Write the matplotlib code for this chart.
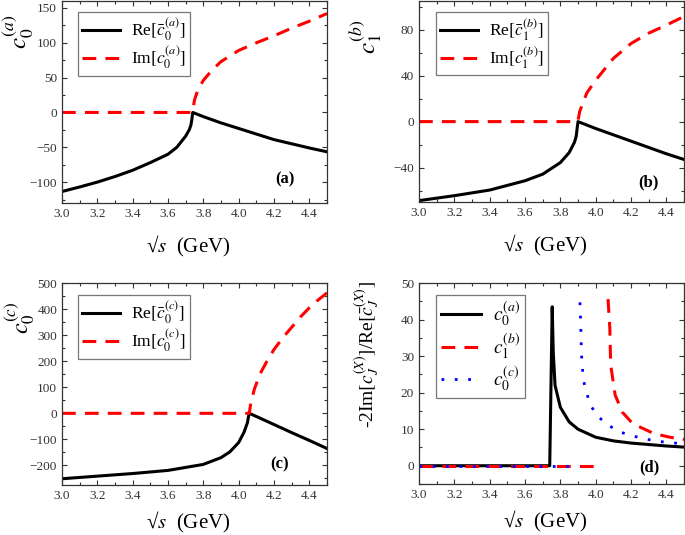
import matplotlib
matplotlib.use("Agg")
import numpy as np
import matplotlib.pyplot as plt
from matplotlib.ticker import MultipleLocator

plt.rcParams['font.family'] = ['Liberation Serif', 'DejaVu Serif']
plt.rcParams['mathtext.fontset'] = 'stix'

# ---- panel (a) ----
a_re_x = [3.0, 3.1, 3.2, 3.3, 3.4, 3.5, 3.6, 3.65, 3.7, 3.72, 3.73, 3.735, 3.74,
          3.8, 3.9, 4.0, 4.1, 4.2, 4.3, 4.4, 4.5]
a_re_y = [-113.5, -107, -100, -92, -83, -72, -60, -50, -34, -25, -18, -10, 0,
          -6, -15, -23, -31, -39, -45, -51, -56.5]
a_im_x = [3.0, 3.735, 3.74, 3.75, 3.77, 3.8, 3.85, 3.9, 4.0, 4.1, 4.2, 4.3, 4.4, 4.5]
a_im_y = [0, 0, 2, 18, 33, 46, 61, 73, 89, 100, 110, 121, 131, 142]

# ---- panel (b) ----
b_re_x = [3.0, 3.2, 3.4, 3.6, 3.7, 3.8, 3.85, 3.88, 3.89, 3.895, 3.9,
          4.0, 4.1, 4.2, 4.3, 4.4, 4.5]
b_re_y = [-68.8, -64.5, -59.6, -51.5, -45.8, -35.7, -27, -18, -12.7, -6, 0,
          -6, -11.5, -17, -22.5, -28, -33]
b_im_x = [3.0, 3.895, 3.9, 3.91, 3.95, 4.0, 4.1, 4.2, 4.3, 4.4, 4.5]
b_im_y = [0, 0, 1, 9, 25, 36, 55, 68, 77, 84, 91.5]

# ---- panel (c) ----
c_re_x = [3.0, 3.2, 3.4, 3.6, 3.8, 3.9, 3.95, 4.0, 4.03, 4.05, 4.055, 4.06,
          4.1, 4.2, 4.3, 4.4, 4.5]
c_re_y = [-251, -241, -231, -219, -196, -170, -148, -112, -73, -35, -15, 0,
          -12, -43, -74, -104, -135]
c_im_x = [3.0, 4.055, 4.06, 4.07, 4.09, 4.12, 4.16, 4.2, 4.25, 4.3, 4.35, 4.4, 4.45, 4.5]
c_im_y = [0, 0, 0, 45, 95, 150, 200, 245, 290, 330, 370, 405, 435, 462]

# ---- panel (d) ----
d_a_x = [3.0, 3.74, 3.754, 3.76, 3.77, 3.8, 3.85, 3.9, 4.0, 4.1, 4.2, 4.3, 4.4, 4.5]
d_a_y = [0, 0, 43.5, 31, 22, 16, 12, 10, 7.8, 6.8, 6.2, 5.8, 5.4, 5.1]
d_b_zero_x = [3.0, 4.034]
d_b_zero_y = [0, 0]
d_b_x = [4.07, 4.08, 4.085, 4.11, 4.15, 4.21, 4.33, 4.42, 4.5]
d_b_y = [45.6, 37.8, 27.6, 19.4, 14.7, 11.5, 8.8, 7.8, 7.2]
d_c_zero_x = [3.0, 3.875]
d_c_zero_y = [0, 0]
d_c_x = [3.911, 3.914, 3.92, 3.93, 3.95, 3.97, 4.01, 4.07, 4.14, 4.2, 4.27, 4.35, 4.42, 4.5]
d_c_y = [44.7, 41, 30.4, 23.5, 19.8, 16.6, 13.6, 11.1, 9.2, 8.3, 7.4, 6.7, 6.3, 6.0]

W, H = 685.0, 535.0
fig = plt.figure(figsize=(6.85, 5.35), dpi=100)


def make_axes(left, top, right, bottom):
    return fig.add_axes([left / W, 1 - bottom / H, (right - left) / W, (bottom - top) / H])


ax_a = make_axes(62, 1, 327, 203)
ax_b = make_axes(419, 1, 684, 202)
ax_c = make_axes(62, 283, 327, 485)
ax_d = make_axes(419, 283, 684, 484)

RED = '#ff0000'
BLUE = '#0000ff'
LW = 2.2
DASH = (0, (4.5, 3.0))


def style(ax, ylim, ymaj, ymin, ylabel, lab_xy, panel, panel_xy, xlab_y):
    ax.set_xlim(3.0, 4.5)
    ax.set_ylim(*ylim)
    ax.xaxis.set_major_locator(MultipleLocator(0.2))
    ax.xaxis.set_minor_locator(MultipleLocator(0.1))
    ax.yaxis.set_major_locator(MultipleLocator(ymaj))
    ax.yaxis.set_minor_locator(MultipleLocator(ymin))
    ax.xaxis.set_major_formatter(matplotlib.ticker.FormatStrFormatter('%.1f'))
    ax.tick_params(which='both', direction='in', top=True, right=True,
                   colors='#333333', labelsize=9.5, width=0.8)
    ax.tick_params(which='major', length=3.5)
    ax.tick_params(which='minor', length=2)
    for s in ax.spines.values():
        s.set_linewidth(0.9)
        s.set_color('#333333')
    ax.set_ylabel(ylabel, fontsize=lab_xy[2])
    ax.yaxis.set_label_coords(lab_xy[0], lab_xy[1])
    ax.set_xlabel('√$s$  (GeV)', fontsize=15)
    ax.xaxis.set_label_coords(0.476, xlab_y)
    ax.text(panel_xy[0], panel_xy[1], panel, transform=ax.transAxes,
            fontsize=12, fontweight='bold', ha='center', va='center')


def legend(ax, loc, spacing=0.1, size=12.5, hl=2.2):
    lg = ax.legend(loc='upper left', bbox_to_anchor=loc, fontsize=size, frameon=True,
                   fancybox=False, edgecolor='#777777', framealpha=1,
                   handlelength=hl, borderpad=0.25, labelspacing=spacing,
                   handletextpad=0.6, borderaxespad=0)
    lg.get_frame().set_linewidth(0.9)


# (a)
ax_a.plot(a_re_x, a_re_y, color='black', lw=LW, label=r'Re$[\bar{c}_0^{(a)}]$')
ax_a.plot(a_im_x, a_im_y, color=RED, lw=LW, ls=DASH, label=r'Im$[c_0^{(a)}]$')
style(ax_a, (-130, 160), 50, 25, r'$c_0^{(a)}$', (-0.1, 0.846, 18), '(a)', (0.84, 0.115), -0.155)
legend(ax_a, (0.06, 0.945))

# (b)
ax_b.plot(b_re_x, b_re_y, color='black', lw=LW, label=r'Re$[\bar{c}_1^{(b)}]$')
ax_b.plot(b_im_x, b_im_y, color=RED, lw=LW, ls=DASH, label=r'Im$[c_1^{(b)}]$')
style(ax_b, (-70, 105), 40, 20, r'$c_1^{(b)}$', (-0.13, 0.82, 18), '(b)', (0.864, 0.1), -0.155)
legend(ax_b, (0.063, 0.945))

# (c)
ax_c.plot(c_re_x, c_re_y, color='black', lw=LW, label=r'Re$[\bar{c}_0^{(c)}]$')
ax_c.plot(c_im_x, c_im_y, color=RED, lw=LW, ls=DASH, label=r'Im$[c_0^{(c)}]$')
style(ax_c, (-275, 500), 100, 50, r'$c_0^{(c)}$', (-0.095, 0.83, 17.5), '(c)', (0.82, 0.1), -0.125)
legend(ax_c, (0.06, 0.94))

# (d)
ax_d.plot(d_a_x, d_a_y, color='black', lw=LW, label=r'$c_0^{(a)}$')
ax_d.plot(d_b_zero_x, d_b_zero_y, color=RED, lw=LW, ls=DASH)
ax_d.plot(d_b_x, d_b_y, color=RED, lw=LW, ls=DASH, label=r'$c_1^{(b)}$')
ax_d.plot(d_c_zero_x, d_c_zero_y, color=BLUE, lw=2.0, ls=(0, (1, 3.8)))
ax_d.plot(d_c_x, d_c_y, color=BLUE, lw=2.0, ls=(0, (1, 3.8)), label=r'$c_0^{(c)}$')
style(ax_d, (-5, 50), 10, 5, r'-2Im$[c_J^{(X)}]$/Re$[\bar{c}_J^{(X)}]$', (-0.14, 0.645, 14),
      '(d)', (0.87, 0.085), -0.125)
legend(ax_d, (0.063, 0.94), spacing=0.15, size=14, hl=2.1)

fig.savefig('out.png', dpi=100)
